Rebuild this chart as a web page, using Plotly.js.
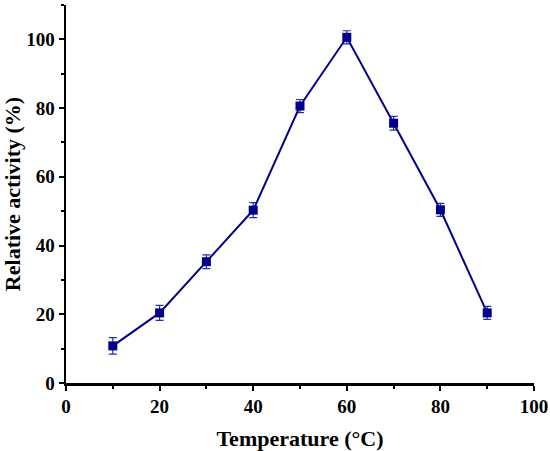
<!DOCTYPE html>
<html>
<head>
<meta charset="utf-8">
<script src="https://cdn.plot.ly/plotly-3.0.1.min.js"></script>
<style>html,body{margin:0;padding:0;background:#fff;}#chart{width:550px;height:451px;}</style>
</head>
<body>
<div id="chart"></div>
<script>
const temperature = [10, 20, 30, 40, 50, 60, 70, 80, 90];
const relativeActivity = [10.8, 20.4, 35.3, 50.3, 80.6, 100.6, 75.6, 50.4, 20.4];
const errorValues = [2.4, 2.2, 2.0, 2.2, 1.9, 1.9, 2.0, 1.9, 1.9];
const xTicks = [0, 20, 40, 60, 80, 100];
const yTicks = [0, 20, 40, 60, 80, 100];

const fontFamily = '"Liberation Serif", "Times New Roman", serif';

const trace = {
  x: temperature,
  y: relativeActivity,
  type: 'scatter',
  mode: 'lines+markers',
  line: {color: '#00008B', width: 2},
  marker: {symbol: 'square', size: 9, color: '#00008B'},
  error_y: {type: 'data', array: errorValues, visible: true, color: '#2b2bb0', thickness: 1.2, width: 4},
  showlegend: false
};

const axisCommon = {
  showgrid: false,
  zeroline: false,
  showline: true,
  linecolor: '#000',
  linewidth: 2.5,
  ticks: 'outside',
  ticklen: 5,
  tickwidth: 2,
  tickcolor: '#000',
  tickfont: {family: fontFamily, size: 19, color: '#000', weight: 'bold'},
  mirror: false
};

const layout = {
  width: 550,
  height: 451,
  margin: {l: 66, r: 16, t: 5, b: 68},
  paper_bgcolor: '#fff',
  plot_bgcolor: '#fff',
  font: {family: fontFamily, color: '#000'},
  xaxis: Object.assign({}, axisCommon, {
    range: [0, 100],
    tickvals: xTicks,
    ticktext: xTicks.map(String),
    minor: {dtick: 10, tick0: 0, ticks: 'outside', ticklen: 3, tickwidth: 2, tickcolor: '#000'},
    title: {text: 'Temperature (°C)', font: {family: fontFamily, size: 22, color: '#000', weight: 'bold'}, standoff: 25}
  }),
  yaxis: Object.assign({}, axisCommon, {
    range: [0, 110],
    tickvals: yTicks,
    ticktext: yTicks.map(String),
    minor: {dtick: 10, tick0: 0, ticks: 'outside', ticklen: 3, tickwidth: 2, tickcolor: '#000'},
    title: {text: 'Relative activity (%)', font: {family: fontFamily, size: 22, color: '#000', weight: 'bold'}, standoff: 8}
  })
};

Plotly.newPlot('chart', [trace], layout, {displayModeBar: false, staticPlot: true});
</script>
</body>
</html>
